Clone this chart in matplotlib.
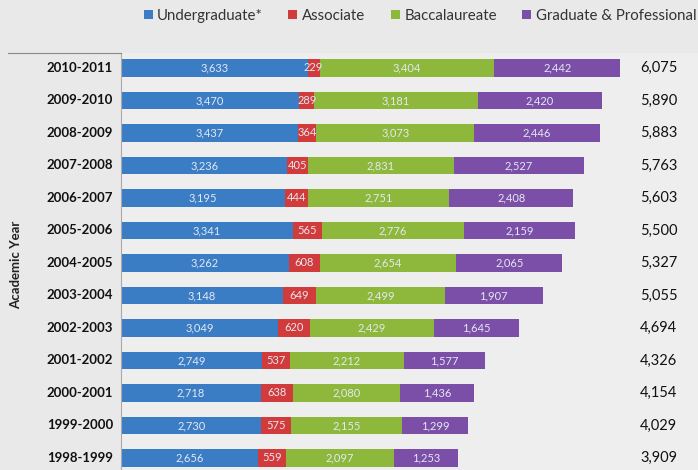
import matplotlib
matplotlib.use("Agg")
import matplotlib.pyplot as plt
import numpy as np

years = ["2010-2011", "2009-2010", "2008-2009", "2007-2008", "2006-2007", "2005-2006",
         "2004-2005", "2003-2004", "2002-2003", "2001-2002", "2000-2001", "1999-2000", "1998-1999"]
undergrad = [3633, 3470, 3437, 3236, 3195, 3341, 3262, 3148, 3049, 2749, 2718, 2730, 2656]
associate = [229, 289, 364, 405, 444, 565, 608, 649, 620, 537, 638, 575, 559]
bacc = [3404, 3181, 3073, 2831, 2751, 2776, 2654, 2499, 2429, 2212, 2080, 2155, 2097]
grad = [2442, 2420, 2446, 2527, 2408, 2159, 2065, 1907, 1645, 1577, 1436, 1299, 1253]
totals = [6075, 5890, 5883, 5763, 5603, 5500, 5327, 5055, 4694, 4326, 4154, 4029, 3909]

series = [("Undergraduate*", undergrad, "#3b7dc4"),
          ("Associate", associate, "#d23b3b"),
          ("Baccalaureate", bacc, "#8db83b"),
          ("Graduate & Professional", grad, "#7b4ea8")]

plt.rcParams['font.family'] = ['Lato', 'DejaVu Sans']

W, H = 698, 470
fig = plt.figure(figsize=(W/100, H/100), dpi=100)
fig.patch.set_facecolor("#e9e9e9")

ax_left = 121 / W
ax_top = 1 - 53 / H
ax = fig.add_axes([ax_left, 0.0, 1 - ax_left, ax_top])
ax.set_facecolor("#eeeeee")

n = len(years)
y = np.arange(n)[::-1]
px_per_unit = 0.0514
ax.set_xlim(0, (W - 121) / px_per_unit)
ax.set_ylim(-0.37, n - 1 + 0.46)

left = np.zeros(n)
for name, vals, col in series:
    vals = np.array(vals, dtype=float)
    ax.barh(y, vals, left=left, height=0.55, color=col, label=name, zorder=2)
    for yi, l, v in zip(y, left, vals):
        ax.text(l + v / 2, yi, f"{int(v):,}", ha="center", va="center",
                fontsize=8, color="#e4e8f2", zorder=3)
    left += vals

tot_x = (640 - 121) / px_per_unit
for yi, t in zip(y, totals):
    ax.text(tot_x, yi, f"{t:,}", ha="left", va="center", fontsize=10.5, color="#111111")

for yi, lab in zip(y, years):
    ax.text(-8 / px_per_unit, yi, lab, ha="right", va="center", fontsize=9.5,
            fontweight="bold", color="#111111", clip_on=False)

ax.set_xticks([])
ax.set_yticks([])
for s in ["top", "right", "bottom"]:
    ax.spines[s].set_visible(False)
ax.spines["left"].set_color("#aaaaaa")
ax.spines["left"].set_linewidth(0.8)

# short rule at the top of the label column
fig.add_artist(plt.Line2D([8 / W, ax_left], [ax_top, ax_top], color="#888888", lw=0.8))

fig.text(16 / W, 1 - 265 / H, "Academic Year", rotation=90, ha="center", va="center",
         fontsize=9.5, fontweight="bold", color="#222222")

handles, labels = ax.get_legend_handles_labels()
leg = fig.legend(handles, labels, loc="center", bbox_to_anchor=(420 / W, 1 - 16 / H),
                 ncol=4, frameon=False, fontsize=10.8, handlelength=0.6, handleheight=0.6,
                 handletextpad=0.3, columnspacing=1.7, borderpad=0.2)
for t in leg.get_texts():
    t.set_color("#333333")

fig.savefig("out.png", dpi=100, facecolor=fig.get_facecolor())
